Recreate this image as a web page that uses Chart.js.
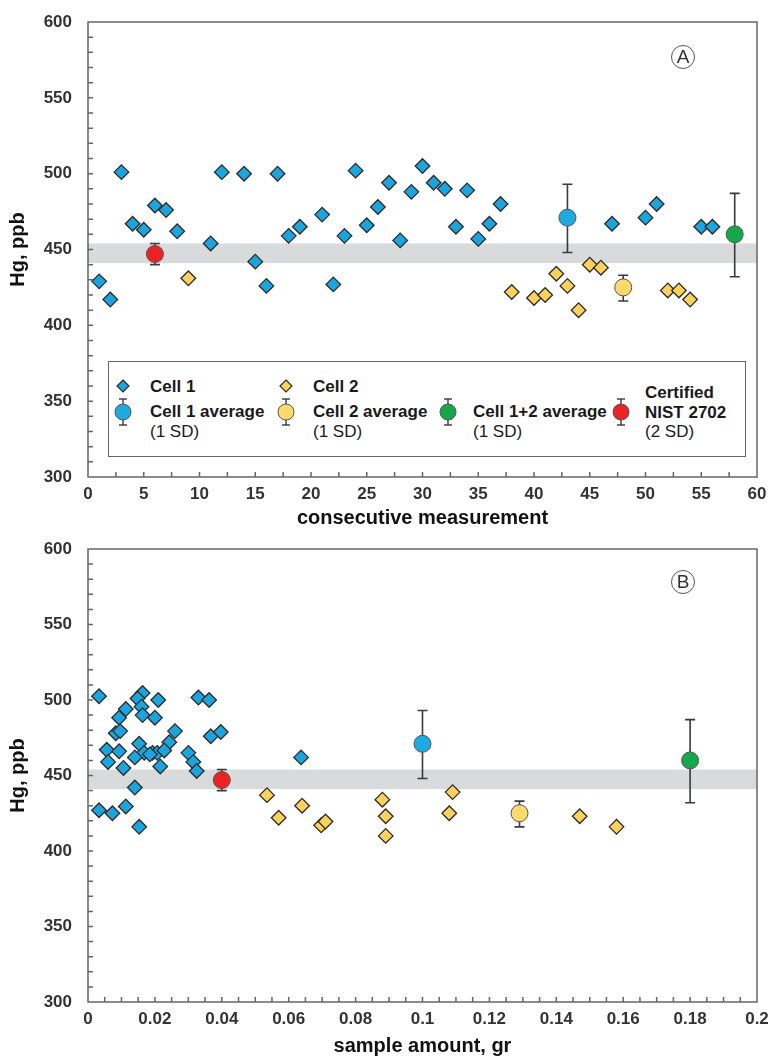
<!DOCTYPE html>
<html>
<head>
<meta charset="utf-8">
<script src="https://cdn.jsdelivr.net/npm/chart.js@4"></script>
<style>
  body { margin: 0; background: #fff; font-family: "Liberation Sans", Arial, sans-serif; }
  #wrap { position: relative; width: 768px; height: 1058px; overflow: hidden; }
  canvas { position: absolute; left: 0; }
  #chartA { top: 0; }
  #chartB { top: 530px; }
  .legend { position: absolute; left: 108px; top: 361px; width: 638px; height: 96px;
            border: 1px solid #666; background: #fff; box-sizing: border-box; }
  .legend svg { position: absolute; left: -1px; top: -1px; }
  .txt { position: absolute; font-size: 17px; font-weight: bold; color: #1a1a1a; line-height: 20px; white-space: nowrap; }
  .txt.sd { font-weight: normal; }
  .badge { position: absolute; width: 22px; height: 22px; border: 1.3px solid #555; border-radius: 50%;
           text-align: center; line-height: 22px; font-size: 19px; color: #333; }
</style>
</head>
<body>
<div id="wrap">
  <canvas id="chartA" width="768" height="530"></canvas>
  <canvas id="chartB" width="768" height="528"></canvas>

  <div class="legend">
    <svg width="638" height="96">
      <!-- symbols only, text is html below -->
      <polygon points="15,19 21,25 15,31 9,25" fill="#1ba5dc" stroke="#2b2b2b" stroke-width="1.2"/>
      <polygon points="178,19 184,25 178,31 172,25" fill="#fcd25c" stroke="#2b2b2b" stroke-width="1.2"/>
      <g stroke="#3a3a3a" stroke-width="1.4">
        <line x1="15" y1="38" x2="15" y2="64"/><line x1="11" y1="38" x2="19" y2="38"/><line x1="11" y1="64" x2="19" y2="64"/>
        <line x1="178" y1="38" x2="178" y2="64"/><line x1="174" y1="38" x2="182" y2="38"/><line x1="174" y1="64" x2="182" y2="64"/>
        <line x1="340" y1="38" x2="340" y2="64"/><line x1="336" y1="38" x2="344" y2="38"/><line x1="336" y1="64" x2="344" y2="64"/>
        <line x1="513" y1="38" x2="513" y2="64"/><line x1="509" y1="38" x2="517" y2="38"/><line x1="509" y1="64" x2="517" y2="64"/>
      </g>
      <circle cx="15" cy="51" r="8" fill="#1ea9e1" stroke="#555" stroke-width="1"/>
      <circle cx="178" cy="51" r="8" fill="#fed96b" stroke="#555" stroke-width="1"/>
      <circle cx="340" cy="51" r="8" fill="#14a84b" stroke="#555" stroke-width="1"/>
      <circle cx="513" cy="51" r="8" fill="#ec2227" stroke="#555" stroke-width="1"/>
    </svg>
    <div class="txt" style="left:41px;top:15px">Cell 1</div>
    <div class="txt" style="left:41px;top:40px">Cell 1 average</div>
    <div class="txt sd" style="left:41px;top:60px">(1 SD)</div>
    <div class="txt" style="left:204px;top:15px">Cell 2</div>
    <div class="txt" style="left:204px;top:40px">Cell 2 average</div>
    <div class="txt sd" style="left:204px;top:60px">(1 SD)</div>
    <div class="txt" style="left:364px;top:40px">Cell 1+2 average</div>
    <div class="txt sd" style="left:364px;top:60px">(1 SD)</div>
    <div class="txt" style="left:536px;top:21px">Certified</div>
    <div class="txt" style="left:536px;top:41px">NIST 2702</div>
    <div class="txt sd" style="left:536px;top:60px">(2 SD)</div>
  </div>

  <div class="badge" style="left:671px;top:45px">A</div>
  <div class="badge" style="left:671px;top:570px">B</div>
</div>

<script>
// gray band = certified value range
const bandLow = 441;
const bandHigh = 454;

// panel A: Hg vs consecutive measurement
const cell1Run = [1,2,3,4,5,6,7,8,11,12,14,15,16,17,18,19,21,22,23,24,25,26,27,28,29,30,31,32,33,34,35,36,37,47,50,51,55,56];
const cell1RunHg = [429,417,501,467,463,479,476,462,454,501,500,442,426,500,459,465,473,427,459,502,466,478,494,456,488,505,494,490,465,489,457,467,480,467,471,480,465,465];
const cell2Run = [9,38,40,41,42,43,44,45,46,52,53,54];
const cell2RunHg = [431,422,418,420,434,426,410,440,438,423,423,417];

// panel B: Hg vs sample amount (gr)
const cell1Mass = [0.0033,0.0163,0.0148,0.021,0.033,0.0362,0.0113,0.016,0.0093,0.0163,0.020,0.0083,0.0096,0.026,0.0367,0.0397,0.0243,0.0153,0.0056,0.0093,0.0168,0.0193,0.0207,0.0228,0.014,0.030,0.0315,0.006,0.0106,0.0216,0.0325,0.014,0.0033,0.0073,0.0113,0.0153,0.0637,0.0185];
const cell1MassHg = [502.5,504.6,501,500,501.6,500,494,495.6,488.3,490,488.3,478,479.4,479.4,476,478.8,472,471,467,466,465,465,465,466.6,462,465,459,459,455,456,453,442,427,425,429.5,416,462,464];
const cell2Mass = [0.0535,0.057,0.064,0.0697,0.071,0.088,0.089,0.089,0.108,0.109,0.147,0.158];
const cell2MassHg = [437,422,430,417,419.5,434,423,410,425,439,423,416];

// averages: cell 1, cell 2, cell 1+2, certified NIST 2702
const avgNames = ['Cell 1 average', 'Cell 2 average', 'Cell 1+2 average', 'Certified NIST 2702'];
const avgRun = [43, 48, 58, 6];
const avgMass = [0.1, 0.129, 0.18, 0.04];
const avgHg = [471, 425, 460, 447];
const avgLow = [448, 416, 432, 440];
const avgHigh = [493, 433, 487, 454];
const avgColors = ['#1ea9e1', '#fed96b', '#14a84b', '#ec2227'];

const yTicks = [300, 350, 400, 450, 500, 550, 600];

function pts(xs, ys) {
  return xs.map((x, i) => ({ x: x, y: ys[i] }));
}

// band, error bars, frame and inner tick marks
const decor = {
  id: 'decor',
  beforeDatasetsDraw(chart) {
    const { ctx, chartArea: a, scales: { x, y } } = chart;
    ctx.save();
    ctx.fillStyle = '#d9dadb';
    const yt = y.getPixelForValue(bandHigh);
    const yb = y.getPixelForValue(bandLow);
    ctx.fillRect(a.left, yt, a.right - a.left, yb - yt);

    ctx.strokeStyle = '#3a3a3a';
    ctx.lineWidth = 1.6;
    chart.data.datasets.forEach(ds => {
      if (!ds.errLow) return;
      ds.data.forEach((p, i) => {
        const px = x.getPixelForValue(p.x);
        const y1 = y.getPixelForValue(ds.errHigh[i]);
        const y2 = y.getPixelForValue(ds.errLow[i]);
        ctx.beginPath();
        ctx.moveTo(px, y1); ctx.lineTo(px, y2);
        ctx.moveTo(px - 5, y1); ctx.lineTo(px + 5, y1);
        ctx.moveTo(px - 5, y2); ctx.lineTo(px + 5, y2);
        ctx.stroke();
      });
    });
    ctx.restore();
  },
  afterDraw(chart, args, opts) {
    const { ctx, chartArea: a, scales: { x, y } } = chart;
    ctx.save();
    ctx.strokeStyle = '#666';
    ctx.lineWidth = 1.5;
    ctx.strokeRect(a.left, a.top, a.right - a.left, a.bottom - a.top);
    ctx.beginPath();
    for (let i = 1; x.min + i * opts.xStep < x.max - 1e-9; i++) {
      const px = x.getPixelForValue(x.min + i * opts.xStep);
      ctx.moveTo(px, a.bottom); ctx.lineTo(px, a.bottom - 5);
    }
    for (let i = 1; y.min + i * opts.yStep < y.max - 1e-9; i++) {
      const py = y.getPixelForValue(y.min + i * opts.yStep);
      ctx.moveTo(a.left, py); ctx.lineTo(a.left + 5, py);
    }
    ctx.stroke();
    ctx.restore();
  }
};

function makeChart(id, cfg) {
  const avgSets = avgNames.map((name, i) => ({
    label: name,
    data: [{ x: cfg.avgX[i], y: avgHg[i] }],
    errLow: [avgLow[i]],
    errHigh: [avgHigh[i]],
    pointStyle: 'circle',
    pointRadius: 8.5,
    pointBackgroundColor: avgColors[i],
    pointBorderColor: '#555',
    pointBorderWidth: 1
  }));
  return new Chart(id, {
    type: 'scatter',
    data: {
      datasets: avgSets.concat([
        {
          label: 'Cell 1',
          data: cfg.cell1,
          pointStyle: 'rectRot',
          pointRadius: 7.3,
          pointBackgroundColor: '#1ba5dc',
          pointBorderColor: '#2b2b2b',
          pointBorderWidth: 1.3
        },
        {
          label: 'Cell 2',
          data: cfg.cell2,
          pointStyle: 'rectRot',
          pointRadius: 7.3,
          pointBackgroundColor: '#fcd25c',
          pointBorderColor: '#2b2b2b',
          pointBorderWidth: 1.3
        }
      ])
    },
    options: {
      responsive: false,
      animation: false,
      layout: { padding: { top: cfg.padTop, right: 11, bottom: 0, left: 0 } },
      plugins: {
        legend: { display: false },
        tooltip: { enabled: false },
        decor: { xStep: cfg.xMinor, yStep: 10 }
      },
      scales: {
        x: {
          type: 'linear',
          min: cfg.xMin, max: cfg.xMax,
          grid: { display: false, drawTicks: false },
          border: { display: false },
          afterFit: s => { s.height = cfg.xHeight; s.paddingLeft = 0; s.paddingRight = 0; },
          afterBuildTicks: s => { s.ticks = cfg.xTicks.map(v => ({ value: v })); },
          ticks: {
            padding: 7,
            color: '#333',
            font: { family: 'Liberation Sans', size: 17, weight: 'bold' },
            callback: v => String(+v.toFixed(2))
          },
          title: {
            display: true,
            text: cfg.xTitle,
            color: '#111',
            padding: { top: 0, bottom: 0 },
            font: { family: 'Liberation Sans', size: 20, weight: 'bold' }
          }
        },
        y: {
          min: 300, max: 600,
          grid: { display: false, drawTicks: false },
          border: { display: false },
          afterFit: s => { s.width = 88; s.paddingTop = 0; s.paddingBottom = 0; },
          afterBuildTicks: s => { s.ticks = yTicks.map(v => ({ value: v })); },
          ticks: {
            padding: 16,
            color: '#333',
            font: { family: 'Liberation Sans', size: 17, weight: 'bold' }
          },
          title: {
            display: true,
            text: 'Hg, ppb',
            color: '#111',
            padding: { top: 6, bottom: 0 },
            font: { family: 'Liberation Sans', size: 20, weight: 'bold' }
          }
        }
      }
    },
    plugins: [decor]
  });
}

makeChart('chartA', {
  cell1: pts(cell1Run, cell1RunHg),
  cell2: pts(cell2Run, cell2RunHg),
  avgX: avgRun,
  xMin: 0, xMax: 60, xMinor: 2.5,
  xTicks: [0, 5, 10, 15, 20, 25, 30, 35, 40, 45, 50, 55, 60],
  xTitle: 'consecutive measurement',
  padTop: 22, xHeight: 53
});

makeChart('chartB', {
  cell1: pts(cell1Mass, cell1MassHg),
  cell2: pts(cell2Mass, cell2MassHg),
  avgX: avgMass,
  xMin: 0, xMax: 0.2, xMinor: 0.005,
  xTicks: [0, 0.02, 0.04, 0.06, 0.08, 0.1, 0.12, 0.14, 0.16, 0.18, 0.2],
  xTitle: 'sample amount, gr',
  padTop: 19, xHeight: 56
});
</script>
</body>
</html>
